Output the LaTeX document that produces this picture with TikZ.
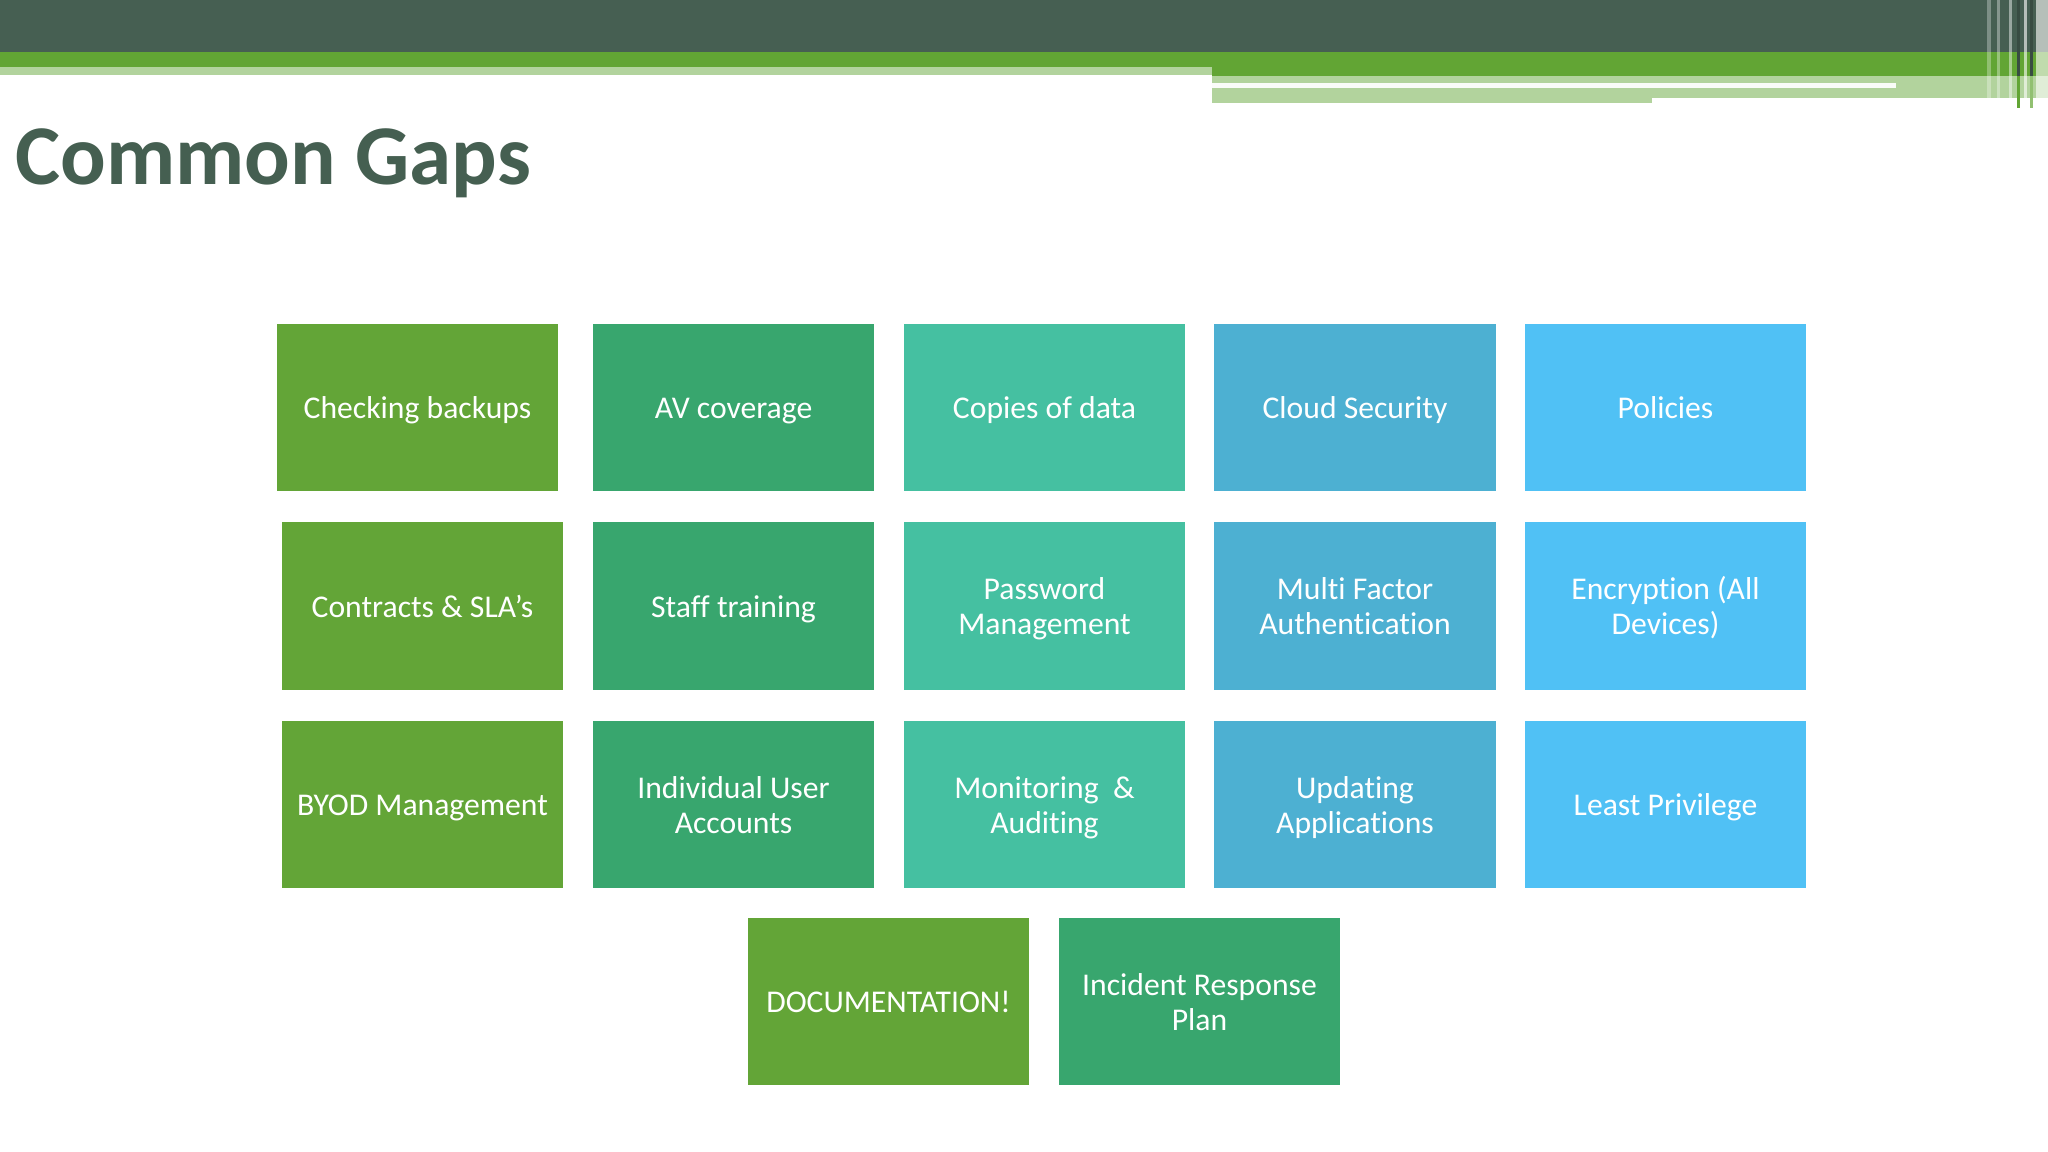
\documentclass[tikz,border=0pt]{standalone}
\usepackage{fontspec}
\setmainfont{Carlito}[Ligatures=NoCommon]
\usepackage{xcolor}
\usepackage{tikz}
\definecolor{bannerdark}{HTML}{465F52}
\definecolor{bannergreen}{HTML}{62A534}
\definecolor{bannerlight}{HTML}{B2D39D}
\definecolor{titlefg}{HTML}{455F51}
\definecolor{gapA}{HTML}{63A537}
\definecolor{gapB}{HTML}{38A66E}
\definecolor{gapC}{HTML}{45C0A1}
\definecolor{gapD}{HTML}{4DB0D2}
\definecolor{gapE}{HTML}{50C1F5}

\tikzset{
  gapbox/.style={rectangle, minimum width=2.81cm, minimum height=1.67cm,
    inner sep=0pt, text=white, align=center,
    execute at begin node={\raisebox{1.7pt}{\vphantom{l}}},
    execute at end node={\vphantom{lg}},
    font=\fontsize{9}{10}\selectfont},
  gaptwo/.style={gapbox, execute at begin node={\raisebox{11.7pt}{\vphantom{l}}}}
}

\begin{document}
\begin{tikzpicture}[x=0.01cm, y=-0.01cm]
  \useasboundingbox (0,0) rectangle (2048,1152);

  % Banner
  \fill[bannerdark] (0,0) rectangle (2048,52);
  \fill[bannergreen] (0,52) rectangle (1212,67);
  \fill[bannerlight] (0,67) rectangle (1212,75);
  \fill[bannergreen] (1212,52) rectangle (2048,76);
  \fill[bannerlight] (1212,76) rectangle (2048,98);
  \fill[bannerlight] (1212,98) rectangle (1652,103);
  \fill[white!94!bannerlight] (1212,83) rectangle (1896,88);
  % stripes at the right edge
  \fill[white, opacity=0.3] (1987,0) rectangle (1991,104);
  \fill[white, opacity=0.35] (1997,0) rectangle (2000,104);
  \fill[white, opacity=0.45] (2009,0) rectangle (2012,108);
  \fill[bannerdark!80!black] (2017,0) rectangle (2020,76);
  \fill[bannergreen] (2017,76) rectangle (2020,108);
  \fill[white, opacity=0.6] (2024,0) rectangle (2027,108);
  \fill[bannerdark!80!black] (2030,0) rectangle (2033,76);
  \fill[bannergreen!70!white] (2030,76) rectangle (2033,108);
  \fill[white, opacity=0.6] (2036,0) rectangle (2048,104);

  % Title
  \node[anchor=base west, text=titlefg, inner sep=0pt,
    font=\fontsize{24.2}{28}\selectfont\bfseries] (title) at (15,185) {Common Gaps};

  % Row 1
  \node[gapbox, fill=gapA] (gBackups) at (417.5,407.5) {Checking backups};
  \node[gapbox, fill=gapB] (gAV) at (733.5,407.5) {AV coverage};
  \node[gapbox, fill=gapC] (gCopies) at (1044.5,407.5) {Copies of data};
  \node[gapbox, fill=gapD] (gCloud) at (1355,407.5) {Cloud Security};
  \node[gapbox, fill=gapE] (gPolicies) at (1665.5,407.5) {Policies};

  % Row 2
  \node[gapbox, fill=gapA] (gContracts) at (422.5,606) {Contracts \& SLA’s};
  \node[gapbox, fill=gapB] (gTraining) at (733.5,606) {Staff training};
  \node[gaptwo, fill=gapC] (gPassword) at (1044.5,606) {Password\\Management};
  \node[gaptwo, fill=gapD] (gMFA) at (1355,606) {Multi Factor\\Authentication};
  \node[gaptwo, fill=gapE] (gEncrypt) at (1665.5,606) {Encryption (All\\Devices)};

  % Row 3
  \node[gapbox, fill=gapA] (gBYOD) at (422.5,804.5) {BYOD Management};
  \node[gaptwo, fill=gapB] (gAccounts) at (733.5,804.5) {Individual User\\Accounts};
  \node[gaptwo, fill=gapC] (gMonitor) at (1044.5,804.5) {Monitoring~ \&\\Auditing};
  \node[gaptwo, fill=gapD] (gUpdating) at (1355,804.5) {Updating\\Applications};
  \node[gapbox, fill=gapE] (gPrivilege) at (1665.5,804.5) {Least Privilege};

  % Row 4
  \node[gapbox, fill=gapA] (gDocs) at (888.5,1001.5) {DOCUMENTATION!};
  \node[gaptwo, fill=gapB] (gIncident) at (1199.5,1001.5) {Incident Response\\Plan};
\end{tikzpicture}
\end{document}
